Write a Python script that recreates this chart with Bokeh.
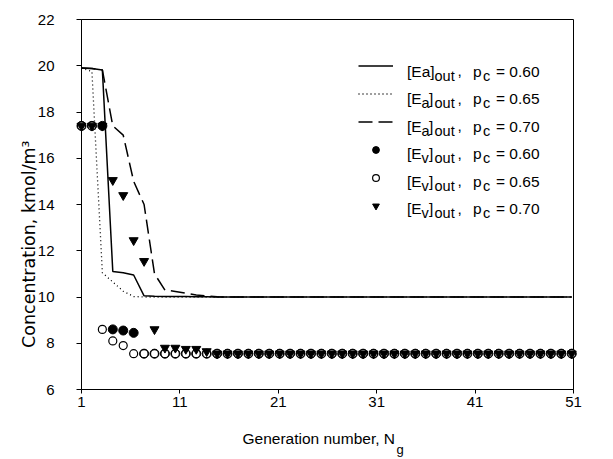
import math
from bokeh.plotting import figure
from bokeh.models import (Range1d, FixedTicker, Legend, LegendItem, Label, ColumnDataSource)
from bokeh.embed import file_html
from bokeh.resources import INLINE

# ---------------- data ----------------
# generation positions of the plotted points as read on the x axis
gen_pos = [1.00, 2.06, 3.12, 4.18, 5.24, 6.30, 7.36, 8.42, 9.48, 10.54,
           11.60, 12.66, 13.72, 14.78, 15.84, 16.90, 17.96, 19.02, 20.08, 21.14,
           22.20, 23.26, 24.32, 25.38, 26.44, 27.50, 28.56, 29.62, 30.68, 31.74,
           32.80, 33.86, 34.92, 35.98, 37.04, 38.10, 39.16, 40.22, 41.28, 42.34,
           43.40, 44.46, 45.52, 46.58, 47.64, 48.70, 49.76, 50.82]

ea_060 = [19.90, 19.88, 19.82, 11.10, 11.05, 10.95, 10.05, 10.03, 10.02, 10.02,
          10.02, 10.01, 10.01, 10.00, 10.00, 10.00, 10.00, 10.00, 10.00, 10.00,
          10.00, 10.00, 10.00, 10.00, 10.00, 10.00, 10.00, 10.00, 10.00, 10.00,
          10.00, 10.00, 10.00, 10.00, 10.00, 10.00, 10.00, 10.00, 10.00, 10.00,
          10.00, 10.00, 10.00, 10.00, 10.00, 10.00, 10.00, 10.00]
ea_065 = [19.90, 19.75, 11.05, 10.65, 10.25, 10.02, 10.00, 10.00, 10.00, 10.00,
          10.00, 10.00, 10.00, 10.00, 10.00, 10.00, 10.00, 10.00, 10.00, 10.00,
          10.00, 10.00, 10.00, 10.00, 10.00, 10.00, 10.00, 10.00, 10.00, 10.00,
          10.00, 10.00, 10.00, 10.00, 10.00, 10.00, 10.00, 10.00, 10.00, 10.00,
          10.00, 10.00, 10.00, 10.00, 10.00, 10.00, 10.00, 10.00]
ea_070 = [19.90, 19.88, 19.82, 17.40, 17.00, 15.00, 14.00, 11.00, 10.30, 10.24,
          10.17, 10.09, 10.04, 10.01, 10.00, 10.00, 10.00, 10.00, 10.00, 10.00,
          10.00, 10.00, 10.00, 10.00, 10.00, 10.00, 10.00, 10.00, 10.00, 10.00,
          10.00, 10.00, 10.00, 10.00, 10.00, 10.00, 10.00, 10.00, 10.00, 10.00,
          10.00, 10.00, 10.00, 10.00, 10.00, 10.00, 10.00, 10.00]
ev_060 = [17.40, 17.40, 17.40, 8.60, 8.55, 8.45, 7.55, 7.55, 7.55, 7.55,
          7.55, 7.55, 7.55, 7.55, 7.55, 7.55, 7.55, 7.55, 7.55, 7.55,
          7.55, 7.55, 7.55, 7.55, 7.55, 7.55, 7.55, 7.55, 7.55, 7.55,
          7.55, 7.55, 7.55, 7.55, 7.55, 7.55, 7.55, 7.55, 7.55, 7.55,
          7.55, 7.55, 7.55, 7.55, 7.55, 7.55, 7.55, 7.55]
ev_065 = [17.40, 17.40, 8.60, 8.10, 7.90, 7.55, 7.55, 7.55, 7.55, 7.55,
          7.55, 7.55, 7.55, 7.55, 7.55, 7.55, 7.55, 7.55, 7.55, 7.55,
          7.55, 7.55, 7.55, 7.55, 7.55, 7.55, 7.55, 7.55, 7.55, 7.55,
          7.55, 7.55, 7.55, 7.55, 7.55, 7.55, 7.55, 7.55, 7.55, 7.55,
          7.55, 7.55, 7.55, 7.55, 7.55, 7.55, 7.55, 7.55]
ev_070 = [17.40, 17.40, 17.40, 15.05, 14.40, 12.45, 11.55, 8.60, 7.80, 7.80,
          7.75, 7.75, 7.65, 7.55, 7.55, 7.55, 7.55, 7.55, 7.55, 7.55,
          7.55, 7.55, 7.55, 7.55, 7.55, 7.55, 7.55, 7.55, 7.55, 7.55,
          7.55, 7.55, 7.55, 7.55, 7.55, 7.55, 7.55, 7.55, 7.55, 7.55,
          7.55, 7.55, 7.55, 7.55, 7.55, 7.55, 7.55, 7.55]

pc_values = ["0.60", "0.65", "0.70", "0.60", "0.65", "0.70"]
x_ticks = [1, 11, 21, 31, 41, 51]
y_ticks = [6, 8, 10, 12, 14, 16, 18, 20, 22]
x_title = "Generation number, N"
x_title_sub = "g"
y_title = "Concentration, kmol/m\u00b3"

# ---------------- figure ----------------
FL, FT, FR, FB = 81, 19, 40, 70
W, H = 613, 459
p = figure(width=W, height=H, output_backend="svg", toolbar_location=None,
           x_range=Range1d(1, 51), y_range=Range1d(6, 22),
           min_border_left=FL, min_border_right=FR, min_border_top=FT, min_border_bottom=FB)
p.background_fill_color = "white"
p.border_fill_color = "white"
p.outline_line_color = "black"
p.outline_line_width = 1
p.xgrid.visible = False
p.ygrid.visible = False

TICK_FONT = "Liberation Sans"
for ax, tick_out, standoff in ((p.xaxis[0], 4, 3), (p.yaxis[0], 5, 22)):
    ax.axis_line_color = "black"
    ax.axis_line_width = 1
    ax.major_tick_line_color = "black"
    ax.major_tick_out = tick_out
    ax.major_tick_in = 0
    ax.minor_tick_line_color = None
    ax.major_label_text_font = TICK_FONT
    ax.major_label_text_font_size = "15px"
    ax.major_label_text_color = "black"
    ax.major_label_standoff = standoff
p.xaxis[0].ticker = FixedTicker(ticks=x_ticks)
p.yaxis[0].ticker = FixedTicker(ticks=y_ticks)

src = ColumnDataSource(dict(x=gen_pos, ea060=ea_060, ea065=ea_065, ea070=ea_070,
                            ev060=ev_060, ev065=ev_065, ev070=ev_070))

r1 = p.line("x", "ea060", source=src, line_color="black", line_width=1.5)
r2 = p.line("x", "ea065", source=src, line_color="black", line_width=1.3, line_dash="1 3")
r3 = p.line("x", "ea070", source=src, line_color="black", line_width=1.5, line_dash="14 6")
r4 = p.scatter("x", "ev060", source=src, marker="circle", size=9,
               fill_color="black", line_color="black", line_width=1, level="overlay")
r5 = p.scatter("x", "ev065", source=src, marker="circle", size=8,
               fill_color="white", line_color="black", line_width=1.2, level="overlay")
r6 = p.scatter("x", "ev070", source=src, marker="inverted_triangle", size=9,
               fill_color="black", line_color="black", line_width=1, level="overlay")

# legend sample glyphs (texts drawn separately to keep sub-scripts)
legend = Legend(items=[LegendItem(label="", renderers=[r]) for r in (r1, r2, r3, r4, r5, r6)],
                location=(358 - FL, H - FB - 213.5), glyph_width=35, glyph_height=17,
                label_height=17, label_width=0, label_standoff=0, spacing=11,
                padding=0, margin=0, border_line_alpha=0, background_fill_alpha=0)
p.add_layout(legend)

FY0 = H - FB  # canvas y of frame bottom


def add_text(text, cx, cy, size, font=TICK_FONT):
    p.add_layout(Label(x=cx - FL, y=FY0 - cy, x_units="screen", y_units="screen",
                       text=text, text_font=font, text_font_size=size,
                       text_color="black", text_align="left",
                       text_baseline="alphabetic"))


MAIN, SUB = "15.5px", "14.5px"
for i, pc in enumerate(pc_values):
    by = 70.7 + 27.5 * i
    sy = by + 4.5
    if i == 0:
        add_text("[Ea]", 406.5, by, MAIN)
    else:
        add_text("[E", 406.5, by, MAIN)
        add_text("a" if i < 3 else "v", 421.0, sy, SUB)
        add_text("]", 428.5, by, MAIN)
    add_text("out", 434.0, sy, SUB)
    add_text(",", 457.0, by, MAIN)
    add_text("p", 472.5, by, MAIN)
    add_text("c", 482.5, sy, SUB)
    add_text("= " + pc, 495.5, by, MAIN)


# axis titles: labels placed in the side panels (so they are not clipped to the frame)
def side_text(side, text, x, y, size, font, angle=0.0):
    p.add_layout(Label(x=x, y=y, x_units="screen", y_units="screen", text=text,
                       text_font=font, text_font_size=size, text_color="black",
                       text_align="left", text_baseline="alphabetic", angle=angle), side)


side_text("below", x_title, 242.0 - FL, -11.7, "15.5px", TICK_FONT)
side_text("below", x_title_sub, 396.0 - FL, -8.0, "13px", TICK_FONT)
side_text("left", y_title, 14.0, 41.5, "17.5px", "DejaVu Sans", math.pi / 2)

open("out.html", "w").write(file_html(p, INLINE))
